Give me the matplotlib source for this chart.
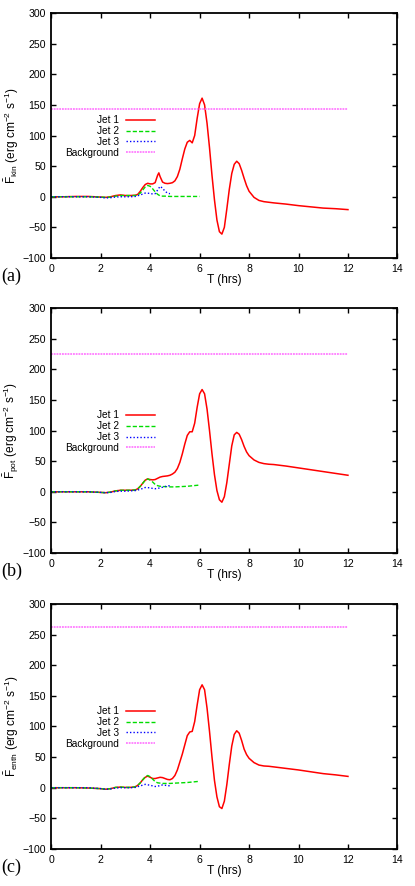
import matplotlib
matplotlib.use("Agg")
import matplotlib.pyplot as plt

plt.rcParams['font.family'] = ['Liberation Sans', 'DejaVu Sans']
plt.rcParams['mathtext.fontset'] = 'custom'
plt.rcParams['mathtext.rm'] = 'Liberation Sans'
plt.rcParams['mathtext.it'] = 'Liberation Sans:italic'
plt.rcParams['font.size'] = 7

# time grids (hrs)
t_jet1 = [0, 0.5, 1.0, 1.5, 2.0, 2.2, 2.4, 2.6, 2.8, 3.0,
          3.2, 3.4, 3.5, 3.6, 3.7, 3.8, 3.9, 4.0, 4.1, 4.2,
          4.3, 4.35, 4.4, 4.5, 4.6, 4.7, 4.8, 4.9, 5.0, 5.1,
          5.2, 5.3, 5.4, 5.5, 5.6, 5.7, 5.8, 5.9, 6.0, 6.1,
          6.2, 6.3, 6.4, 6.5, 6.6, 6.7, 6.8, 6.9, 7.0, 7.1,
          7.2, 7.3, 7.4, 7.5, 7.6, 7.7, 7.8, 7.9, 8.0, 8.2,
          8.4, 8.6, 8.8, 9.0, 9.5, 10.0, 10.5, 11.0, 11.5, 12.0]
t_jet2 = [0, 0.5, 1.0, 1.5, 2.0, 2.2, 2.4, 2.6, 2.8, 3.0,
          3.2, 3.4, 3.5, 3.6, 3.7, 3.8, 3.9, 4.0, 4.1, 4.2,
          4.3, 4.4, 4.5, 4.6, 4.8, 5.0, 5.5, 6.0]
t_jet3 = [0, 0.5, 1.0, 1.5, 2.0, 2.2, 2.4, 2.6, 2.8, 3.0,
          3.2, 3.4, 3.6, 3.8, 4.0, 4.1, 4.2, 4.3, 4.4, 4.5,
          4.6, 4.7, 4.8]
t_bg = [0, 12]

# (a) kinetic energy flux
kin_jet1 = [0, 0, 0.5, 0.5, -0.5, -1, 0, 2, 3, 2,
            2, 2.5, 4, 9, 15, 20, 22, 21, 21, 23,
            35, 39, 33, 24, 22, 21.5, 22, 23, 26, 33,
            45, 62, 78, 89, 92, 88, 100, 128, 152, 161,
            150, 120, 80, 35, -5, -38, -57, -61, -50, -20,
            12, 38, 53, 58, 54, 43, 30, 18, 9, -1,
            -6, -8, -9, -10, -12, -14.5, -16.5, -18.5, -19.5, -21]
kin_jet2 = [0, 0, 0, 0, -0.5, -1, -0.5, 1, 2, 2,
            2, 2, 3, 6, 11, 16, 18.5, 17, 13, 8,
            4, 1.5, 1, 1, 0.5, 0.5, 0.5, 0.5]
kin_jet3 = [0, 0, 0, 0, -1, -2, -1.5, -0.5, 0, 0,
            0, 0.5, 3, 6, 5.5, 4.5, 5, 11, 17, 14,
            9, 6, 5]
kin_bg = [143, 143]

# (b) potential energy flux
pot_jet1 = [0, 0, 0, 0, -1, -1.5, -0.5, 1.5, 2.5, 2.5,
            2.5, 3, 5, 9, 14, 19, 21, 20, 19.5, 20,
            22, 23, 24, 25, 25.5, 26, 27, 29, 32, 38,
            48, 62, 78, 92, 98, 98, 112, 138, 160, 167,
            160, 135, 100, 62, 28, 2, -13, -17, -8, 15,
            45, 75, 93, 97, 94, 85, 74, 65, 59, 52,
            48, 46, 45, 44.5, 42, 39, 36, 33, 30, 27]
pot_jet2 = [0, 0, 0, 0, -1, -1.5, -0.5, 1.5, 2.5, 2.5,
            2.5, 3, 5, 9, 14, 19, 21, 19, 16, 12,
            10, 9, 8.5, 8.5, 8, 8, 9, 11]
pot_jet3 = [0, 0, 0, 0, -1, -1.5, -1, 0.5, 1, 1,
            1.5, 2, 4, 7, 6.5, 5.5, 5, 5.5, 6.5, 7.5,
            8.5, 9.5, 10]
pot_bg = [225, 225]

# (c) enthalpy flux
enth_jet1 = [0, 0, 0, -0.5, -1.5, -2.5, -1.5, 0.5, 1, 0.5,
             0.5, 1.5, 4, 8, 13, 17, 19, 17, 15, 15,
             16, 16.5, 17, 16.5, 15, 13.5, 13, 15, 20, 29,
             42, 55, 70, 85, 91, 92, 108, 135, 160, 168,
             160, 130, 92, 50, 12, -15, -31, -34, -22, 5,
             38, 68, 87, 93, 89, 77, 63, 54, 48, 41,
             37, 35.5, 35, 34, 31.5, 29, 26, 23, 21, 18.5]
enth_jet2 = [0, 0, 0, -0.5, -1.5, -2.5, -1.5, 0.5, 1, 0.5,
             0.5, 1.5, 4, 8, 13, 18, 20, 18, 14, 10,
             8, 7.5, 7, 7, 7, 7.5, 8.5, 10.5]
enth_jet3 = [0, 0, 0, 0, -1.5, -2.5, -2, -0.5, 0, 0,
             0, 0.5, 3, 5.5, 4, 3, 2, 2.5, 3.5, 4.5,
             4, 3.5, 3]
enth_bg = [262, 262]

panels = [
    ("(a)", r"$\bar{\mathrm{F}}_{\mathrm{kin}}$ (erg cm$^{-2}$ s$^{-1}$)",
     kin_jet1, kin_jet2, kin_jet3, kin_bg),
    ("(b)", r"$\bar{\mathrm{F}}_{\mathrm{pot}}$ (erg cm$^{-2}$ s$^{-1}$)",
     pot_jet1, pot_jet2, pot_jet3, pot_bg),
    ("(c)", r"$\bar{\mathrm{F}}_{\mathrm{enth}}$ (erg cm$^{-2}$ s$^{-1}$)",
     enth_jet1, enth_jet2, enth_jet3, enth_bg),
]

fig = plt.figure(figsize=(4.15, 8.86), dpi=100)
bottoms = [0.7088, 0.3758, 0.0418]

for i, (tag, ylab, j1, j2, j3, bg) in enumerate(panels):
    ax = fig.add_axes([0.1236, bottoms[i], 0.834, 0.2765])
    ax.plot(t_jet1, j1, color='#ff0000', lw=1.1, label='Jet 1')
    ax.plot(t_jet2, j2, color='#00dd00', lw=1.0, ls=(0, (3, 1.5)), label='Jet 2')
    ax.plot(t_jet3, j3, color='#0000ff', lw=1.0, ls=(0, (1, 1.5)), label='Jet 3')
    ax.plot(t_bg, bg, color='#ff66ff', lw=1.1, ls=(0, (1.2, 0.6)), label='Background')

    ax.set_xlim(0, 14)
    ax.set_ylim(-100, 300)
    ax.set_xticks(range(0, 15, 2))
    ax.set_yticks(range(-100, 301, 50))
    ax.tick_params(direction='in', top=True, right=True, length=3.5, width=1.0,
                   pad=4, labelsize=7.6)
    for s in ax.spines.values():
        s.set_linewidth(1.3)

    ax.set_xlabel("T (hrs)", fontsize=8.6, labelpad=0)
    ax.set_ylabel(ylab, fontsize=8.6, labelpad=1)

    leg = ax.legend(loc='upper right', bbox_to_anchor=(0.30, 0.582),
                    frameon=False, markerfirst=False, fontsize=7.3,
                    handlelength=2.9, handletextpad=0.7, labelspacing=0.08,
                    borderpad=0, borderaxespad=0)

    ax.text(-0.145, -0.075, tag, transform=ax.transAxes, ha='left', va='center',
            fontsize=13, family='Liberation Serif')

fig.savefig("out.png", dpi=100)
